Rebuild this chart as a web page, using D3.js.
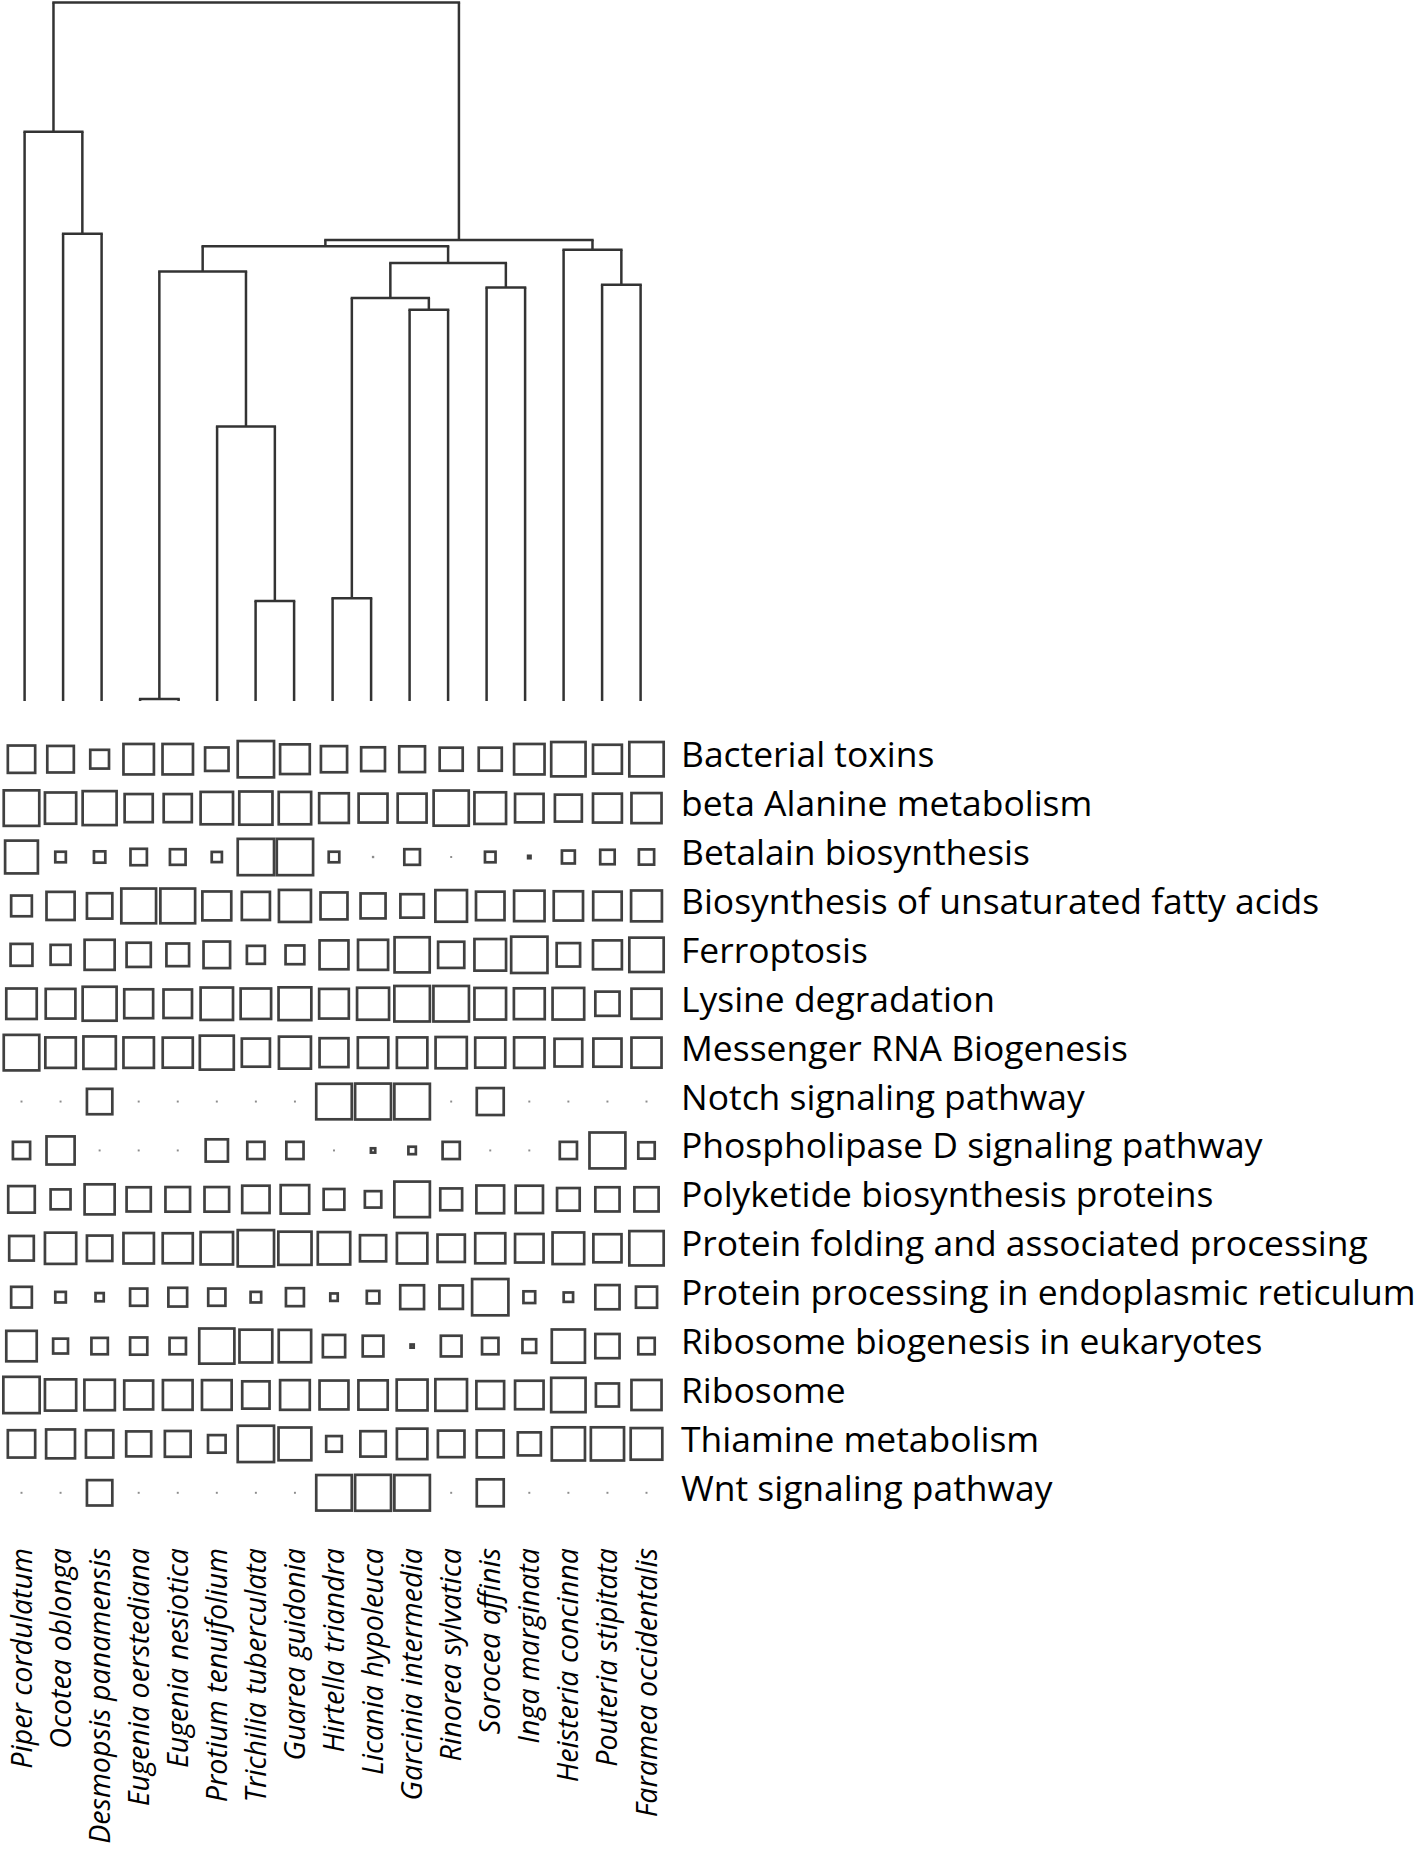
<!DOCTYPE html>
<html>
<head>
<meta charset="utf-8">
<script src="https://d3js.org/d3.v7.min.js"></script>
<style>
	body {
		margin: 0;
		background: #fff;
	}
	.row-label {
		font-family: "Open Sans";
		fill: #000;
	}
	.sp-label {
		font-family: "Open Sans";
		font-style: italic;
		fill: #000;
	}
	.link {
		stroke: #333;
		stroke-width: 2.5;
		fill: none;
	}
	.cell {
		fill: none;
		stroke: #404040;
		stroke-width: 2.7;
	}
	.dot {
		fill: #8c8c8c;
	}
</style>
</head>
<body>
<script>

	// species, in dendrogram leaf order
	var species = ["Piper cordulatum", "Ocotea oblonga", "Desmopsis panamensis", "Eugenia oerstediana",
		"Eugenia nesiotica", "Protium tenuifolium", "Trichilia tuberculata", "Guarea guidonia",
		"Hirtella triandra", "Licania hypoleuca", "Garcinia intermedia", "Rinorea sylvatica",
		"Sorocea affinis", "Inga marginata", "Heisteria concinna", "Pouteria stipitata",
		"Faramea occidentalis"];

	var pathways = ["Bacterial toxins", "beta Alanine metabolism", "Betalain biosynthesis",
		"Biosynthesis of unsaturated fatty acids", "Ferroptosis", "Lysine degradation",
		"Messenger RNA Biogenesis", "Notch signaling pathway", "Phospholipase D signaling pathway",
		"Polyketide biosynthesis proteins", "Protein folding and associated processing",
		"Protein processing in endoplasmic reticulum", "Ribosome biogenesis in eukaryotes",
		"Ribosome", "Thiamine metabolism", "Wnt signaling pathway"];

	// hclust style merges: [a, b, height]; negative = leaf (1-based), positive = earlier merge (1-based)
	var merges = [
		[-4, -5, 0.003],
		[-7, -8, 0.143],
		[-9, -10, 0.147],
		[-6, 2, 0.393],
		[-11, -12, 0.560],
		[3, 5, 0.577],
		[-13, -14, 0.592],
		[-16, -17, 0.596],
		[1, 4, 0.615],
		[6, 7, 0.627],
		[-15, 8, 0.646],
		[9, 10, 0.651],
		[12, 11, 0.660],
		[-2, -3, 0.669],
		[-1, 14, 0.815],
		[15, 13, 1.000]
	];

	// relative square size (1 = full cell), one row per pathway, columns follow species
	var sizes = [
		[.77, .75, .55, .85, .85, .67, 1.0, .83, .74, .68, .73, .66, .66, .85, .95, .81, .95],
		[.98, .87, .94, .79, .79, .90, .92, .90, .83, .81, .81, .97, .88, .80, .76, .81, .84],
		[.91, .34, .36, .49, .47, .33, 1.0, 1.0, .34, .06, .47, .05, .34, .13, .40, .44, .46],
		[.60, .79, .72, .96, .96, .81, .79, .89, .76, .71, .67, .88, .80, .85, .82, .80, .86],
		[.63, .58, .84, .69, .65, .75, .53, .55, .81, .84, .97, .74, .88, 1.0, .67, .81, .95],
		[.85, .83, .94, .81, .80, .90, .85, .91, .83, .89, .98, .98, .88, .86, .88, .69, .84],
		[.98, .85, .90, .85, .84, .94, .79, .89, .81, .85, .85, .87, .84, .85, .78, .79, .84],
		[.05, .05, .72, .05, .05, .05, .05, .05, .98, .99, .98, .05, .76, .05, .05, .05, .05],
		[.51, .79, .05, .05, .05, .64, .51, .51, .05, .18, .26, .51, .05, .05, .51, .99, .49],
		[.75, .58, .84, .69, .70, .70, .77, .80, .60, .49, .98, .63, .78, .77, .65, .69, .69],
		[.70, .87, .72, .85, .84, .90, 1.0, .92, .90, .74, .85, .77, .84, .80, .88, .79, .95],
		[.60, .34, .28, .51, .55, .51, .34, .53, .26, .39, .68, .67, 1.0, .37, .31, .69, .61],
		[.85, .45, .49, .51, .49, .97, .91, .90, .64, .60, .15, .60, .49, .42, .92, .69, .49],
		[1.0, .87, .85, .81, .83, .83, .77, .83, .81, .82, .86, .88, .78, .80, .95, .66, .84],
		[.77, .81, .77, .71, .73, .52, 1.0, .91, .47, .72, .85, .75, .76, .66, .92, .92, .88],
		[.05, .05, .72, .05, .05, .05, .05, .05, .98, .99, .98, .05, .76, .05, .05, .05, .05]
	];

	var W = 1418, H = 1852;
	var svg = d3.select("body").append("svg")
		.attr("width", W)
		.attr("height", H);

	// ---- dendrogram ----
	var leafX = d3.scalePoint().domain(species).range([24.6, 640.6]);
	var hY = d3.scaleLinear().domain([0, 1]).range([701, 2.5]);

	var leaves = species.map(function(s) { return {name: s, height: 0}; });
	var nodes = [];
	merges.forEach(function(m) {
		var kids = [m[0], m[1]].map(function(k) { return k < 0 ? leaves[-k - 1] : nodes[k - 1]; });
		nodes.push({children: kids, height: m[2]});
	});
	var root = d3.hierarchy(nodes[nodes.length - 1]);
	root.eachAfter(function(d) {
		if (!d.children) d.x = leafX(d.data.name);
		else d.x = d3.mean(d.children, function(c) { return c.x; });
	});

	var dendro = svg.append("g");
	root.descendants().filter(function(d) { return d.children; }).forEach(function(d) {
		var y = hY(d.data.height);
		var xs = d.children.map(function(c) { return c.x; });
		dendro.append("line").attr("class", "link")
			.attr("x1", d3.min(xs) - 1.2).attr("x2", d3.max(xs) + 1.2)
			.attr("y1", y).attr("y2", y);
		d.children.forEach(function(c) {
			dendro.append("line").attr("class", "link")
				.attr("x1", c.x).attr("x2", c.x)
				.attr("y1", y).attr("y2", hY(c.data.height));
		});
	});

	// ---- square grid ----
	var colX = d3.scalePoint().domain(species).range([21.5, 646.5]);
	var rowY = d3.scalePoint().domain(pathways).range([759.2, 1492.8]);
	var side = d3.scaleLinear().domain([0, 1]).range([0, 39]);
	var sw = 2.7;

	var cells = [];
	sizes.forEach(function(row, i) {
		row.forEach(function(v, j) {
			cells.push({path: pathways[i], sp: species[j], v: v});
		});
	});

	var grid = svg.append("g");
	grid.selectAll("rect.cell")
		.data(cells.filter(function(d) { return side(d.v) > 4; }))
		.enter().append("rect")
		.attr("class", "cell")
		.attr("x", function(d) { return colX(d.sp) - side(d.v) / 2 + sw / 2; })
		.attr("y", function(d) { return rowY(d.path) - side(d.v) / 2 + sw / 2; })
		.attr("width", function(d) { return side(d.v) - sw; })
		.attr("height", function(d) { return side(d.v) - sw; });

	grid.selectAll("rect.dot")
		.data(cells.filter(function(d) { return side(d.v) <= 4; }))
		.enter().append("rect")
		.attr("class", "dot")
		.attr("x", function(d) { return colX(d.sp) - side(d.v) / 2; })
		.attr("y", function(d) { return rowY(d.path) - side(d.v) / 2; })
		.attr("width", function(d) { return side(d.v); })
		.attr("height", function(d) { return side(d.v); });

	// fit a font size so that a sample string gets the wanted width
	function fitSize(sample, target, cls) {
		var t = svg.append("text").attr("class", cls).style("font-size", "100px").text(sample);
		var w = t.node().getComputedTextLength();
		t.remove();
		return 100 * target / w;
	}

	var rowSize = fitSize("Protein processing in endoplasmic reticulum", 735, "row-label");
	var spSize = fitSize("Desmopsis panamensis", 296, "sp-label");

	svg.append("g").selectAll("text")
		.data(pathways)
		.enter().append("text")
		.attr("class", "row-label")
		.style("font-size", rowSize + "px")
		.attr("x", 681)
		.attr("y", function(d) { return rowY(d) + 8; })
		.text(function(d) { return d; });

	svg.append("g").selectAll("text")
		.data(species)
		.enter().append("text")
		.attr("class", "sp-label")
		.style("font-size", spSize + "px")
		.attr("text-anchor", "end")
		.attr("dy", "0.35em")
		.attr("transform", function(d) { return "translate(" + colX(d) + ",1548) rotate(-90)"; })
		.text(function(d) { return d; });

</script>
</body>
</html>
